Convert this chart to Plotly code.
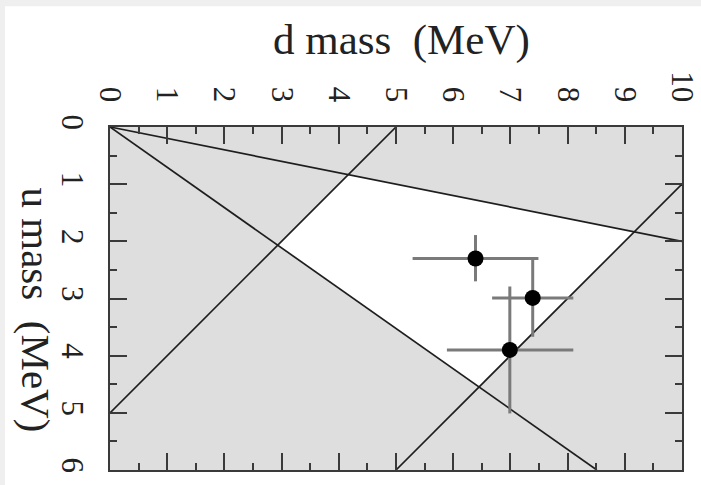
import numpy as np
import plotly.graph_objects as go

# Quark mass determinations (MeV): central values and error ranges
d_mass = [6.39, 7.39, 6.99]
u_mass = [2.30, 2.99, 3.90]
d_low = [5.29, 6.68, 5.89]
d_high = [7.49, 8.10, 8.10]
u_low = [1.89, 2.30, 2.79]
u_high = [2.70, 3.67, 5.01]

# Constraint lines bounding the allowed region
ratio_min = 0.2     # m_u / m_d lower bound
ratio_max = 0.705   # m_u / m_d upper bound
sum_min = 5.0       # m_u + m_d lower bound
sum_max = 11.0      # m_u + m_d upper bound

d_range = [0, 10]
u_range = [0, 6]
d_ticks = list(range(0, 11))
u_ticks = list(range(0, 7))

FONT = "Liberation Serif"
LINE = "#1e1e1e"
SHADE = "#dedede"

fig = go.Figure()

# Shaded background over the whole plotting range
fig.add_trace(go.Scatter(
    x=[d_range[0], d_range[1], d_range[1], d_range[0], d_range[0]],
    y=[u_range[0], u_range[0], u_range[1], u_range[1], u_range[0]],
    fill="toself", fillcolor=SHADE, mode="none", hoverinfo="skip",
    showlegend=False))

# Allowed region: quadrilateral between the ratio and sum lines
def ray_sum(r, s):
    d = s / (1 + r)
    return d, r * d

corners = [ray_sum(ratio_min, sum_min), ray_sum(ratio_min, sum_max),
           ray_sum(ratio_max, sum_max), ray_sum(ratio_max, sum_min)]
cx = [c[0] for c in corners] + [corners[0][0]]
cy = [c[1] for c in corners] + [corners[0][1]]
fig.add_trace(go.Scatter(
    x=cx, y=cy, fill="toself", fillcolor="white", mode="none",
    hoverinfo="skip", showlegend=False))

# Ratio lines through the origin, clipped to the plotting box
for r in (ratio_min, ratio_max):
    d_end = min(d_range[1], u_range[1] / r)
    fig.add_trace(go.Scatter(
        x=[0, d_end], y=[0, r * d_end], mode="lines",
        line=dict(color=LINE, width=1.7), hoverinfo="skip", showlegend=False))

# Sum lines, clipped to the plotting box
for s in (sum_min, sum_max):
    d_start = max(d_range[0], s - u_range[1])
    d_end = min(d_range[1], s - u_range[0])
    fig.add_trace(go.Scatter(
        x=[d_start, d_end], y=[s - d_start, s - d_end], mode="lines",
        line=dict(color=LINE, width=1.7), hoverinfo="skip", showlegend=False))

# Data points with asymmetric error bars
d_arr = np.array(d_mass)
u_arr = np.array(u_mass)
fig.add_trace(go.Scatter(
    x=d_mass, y=u_mass, mode="markers",
    marker=dict(color="black", size=16),
    error_x=dict(type="data", symmetric=False,
                 array=list(np.array(d_high) - d_arr),
                 arrayminus=list(d_arr - np.array(d_low)),
                 color="#7a7a7a", thickness=3, width=0),
    error_y=dict(type="data", symmetric=False,
                 array=list(np.array(u_high) - u_arr),
                 arrayminus=list(u_arr - np.array(u_low)),
                 color="#7a7a7a", thickness=3, width=0),
    showlegend=False))

axis_common = dict(
    showgrid=False, zeroline=False, showline=True, linecolor="#3a3a3a",
    linewidth=2, mirror="allticks", ticks="inside", ticklen=17,
    tickwidth=1.6, tickcolor="#3a3a3a", tickangle=90, automargin=False,
    tickfont=dict(family=FONT, size=31, color="#222"),
    minor=dict(ticks="inside", ticklen=7, tickwidth=1.6, dtick=0.5,
               tickcolor="#3a3a3a", showgrid=False),
)

fig.update_xaxes(range=d_range, side="top", tickmode="array",
                 tickvals=d_ticks, ticktext=[str(t) for t in d_ticks],
                 ticklabelstandoff=12, **axis_common)
fig.update_yaxes(range=[u_range[1], u_range[0]], tickmode="array",
                 tickvals=u_ticks, ticktext=[str(t) for t in u_ticks],
                 ticklabelstandoff=9, **axis_common)

fig.add_annotation(text="d mass  (MeV)", xref="paper", yref="paper",
                   x=0.51, y=1.255, xanchor="center", yanchor="middle",
                   showarrow=False, font=dict(family=FONT, size=43, color="#222"))
fig.add_annotation(text="u mass  (MeV)", xref="paper", yref="paper",
                   x=-0.13, y=0.466, xanchor="center", yanchor="middle",
                   textangle=90, showarrow=False,
                   font=dict(family=FONT, size=41, color="#222"))

# Faint border strips along the top and left edges of the page
fig.add_shape(type="rect", xref="paper", yref="paper",
              x0=-0.2, x1=1.05, y0=1.352, y1=1.4,
              fillcolor="#efefef", line_width=0, layer="below")
fig.add_shape(type="rect", xref="paper", yref="paper",
              x0=-0.2, x1=-0.1836, y0=-0.1, y1=1.4,
              fillcolor="#efefef", line_width=0, layer="below")

fig.update_layout(
    width=701, height=485,
    margin=dict(l=110, r=19, t=127, b=15),
    paper_bgcolor="white", plot_bgcolor=SHADE,
)

fig.write_html("out.html")
